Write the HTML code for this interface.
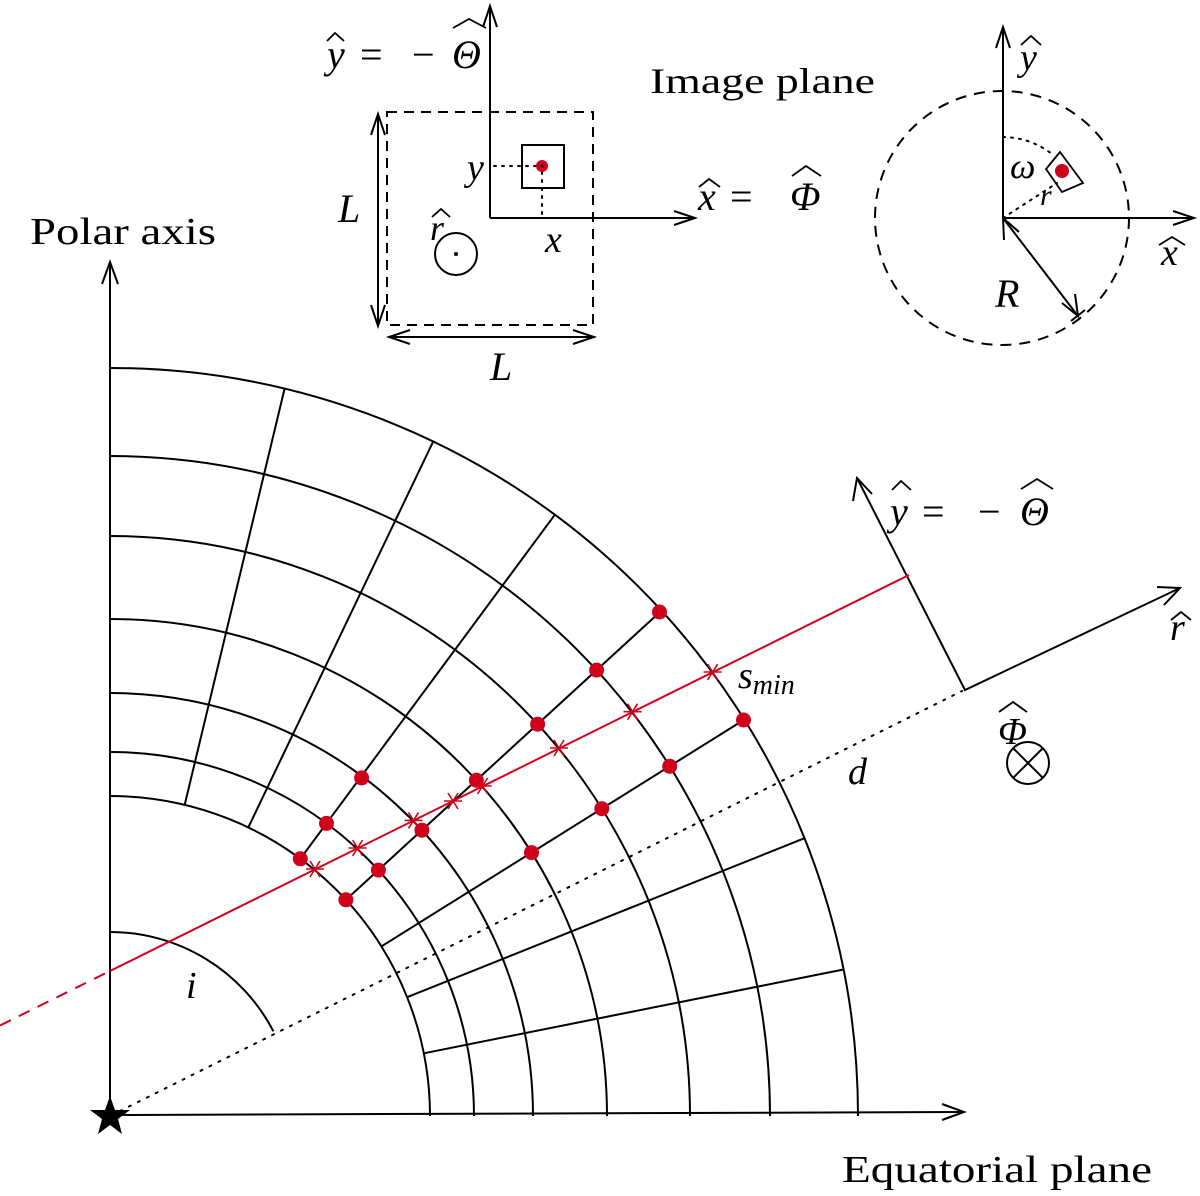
<!DOCTYPE html>
<html><head><meta charset="utf-8"><style>
html,body{margin:0;padding:0;background:#fff;}
svg{display:block;}
text{font-family:"Liberation Serif",serif;fill:#000;}
.m{font-style:italic;}
</style></head><body>
<svg width="1200" height="1196" viewBox="0 0 1200 1196" xmlns="http://www.w3.org/2000/svg">
<g fill="none" stroke="#000" stroke-width="2">
<path d="M430 1116 A320 320 0 0 0 110 796"/>
<path d="M474 1116 A364 364 0 0 0 110 752"/>
<path d="M533 1116 A423 423 0 0 0 110 693"/>
<path d="M607 1116 A497 497 0 0 0 110 619"/>
<path d="M690 1116 A580 580 0 0 0 110 536"/>
<path d="M770 1116 A660 660 0 0 0 110 456"/>
<path d="M858 1116 A748 748 0 0 0 110 368"/>
<line x1="423.8" y1="1053.3" x2="843.5" y2="969.5"/>
<line x1="407.1" y1="997.2" x2="804.5" y2="838.2"/>
<line x1="381.4" y1="946.4" x2="744.3" y2="719.6"/>
<line x1="345.9" y1="899.8" x2="661.5" y2="610.6"/>
<line x1="300.3" y1="858.8" x2="554.9" y2="514.7"/>
<line x1="248.3" y1="827.4" x2="433.2" y2="441.5"/>
<line x1="184.7" y1="804.8" x2="284.6" y2="388.6"/>
<path d="M110 932 A184 184 0 0 1 273.4 1031.3"/>
<line x1="110" y1="1116" x2="110" y2="262"/>
<path d="M102 284 L110 262 L118 284"/>
<line x1="110" y1="1115" x2="963" y2="1112"/>
<path d="M942 1104 L964 1112 L942 1120"/>
<line x1="120" y1="1111" x2="962" y2="691" stroke-dasharray="2 8" stroke-linecap="round"/>
<polyline points="857,478 965,690 1180,588"/>
<path d="M853 501 L857 478 L872 494"/>
<path d="M1157 587 L1180 588 L1164 605"/>
<circle cx="1028" cy="763" r="21"/>
<line x1="1013" y1="748" x2="1043" y2="778"/>
<line x1="1043" y1="748" x2="1013" y2="778"/>
</g>
<g stroke="#d0021b" stroke-width="2" fill="none">
<line x1="0" y1="1025.5" x2="110" y2="971" stroke-dasharray="12 9"/>
<line x1="110" y1="971" x2="909" y2="575"/>
</g>
<g stroke="#d0021b" stroke-width="1.6">
<g transform="translate(315,869)"><line x1="-9" y1="0" x2="9" y2="0"/><line x1="-5" y1="-8" x2="5" y2="8"/><line x1="5" y1="-8" x2="-5" y2="8"/></g>
<g transform="translate(357.6,848)"><line x1="-9" y1="0" x2="9" y2="0"/><line x1="-5" y1="-8" x2="5" y2="8"/><line x1="5" y1="-8" x2="-5" y2="8"/></g>
<g transform="translate(413.5,820.4)"><line x1="-9" y1="0" x2="9" y2="0"/><line x1="-5" y1="-8" x2="5" y2="8"/><line x1="5" y1="-8" x2="-5" y2="8"/></g>
<g transform="translate(453,801)"><line x1="-9" y1="0" x2="9" y2="0"/><line x1="-5" y1="-8" x2="5" y2="8"/><line x1="5" y1="-8" x2="-5" y2="8"/></g>
<g transform="translate(482.6,786)"><line x1="-9" y1="0" x2="9" y2="0"/><line x1="-5" y1="-8" x2="5" y2="8"/><line x1="5" y1="-8" x2="-5" y2="8"/></g>
<g transform="translate(559,748)"><line x1="-9" y1="0" x2="9" y2="0"/><line x1="-5" y1="-8" x2="5" y2="8"/><line x1="5" y1="-8" x2="-5" y2="8"/></g>
<g transform="translate(632.5,711.7)"><line x1="-9" y1="0" x2="9" y2="0"/><line x1="-5" y1="-8" x2="5" y2="8"/><line x1="5" y1="-8" x2="-5" y2="8"/></g>
<g transform="translate(712.6,672)"><line x1="-9" y1="0" x2="9" y2="0"/><line x1="-5" y1="-8" x2="5" y2="8"/><line x1="5" y1="-8" x2="-5" y2="8"/></g>
</g>
<g fill="#d0021b">
<circle cx="345.9" cy="899.8" r="7.5"/><circle cx="378.4" cy="870.1" r="7.5"/><circle cx="421.9" cy="830.2" r="7.5"/><circle cx="476.4" cy="780.2" r="7.5"/><circle cx="537.6" cy="724.2" r="7.5"/><circle cx="596.6" cy="670.1" r="7.5"/><circle cx="659.5" cy="612" r="7.5"/>
<circle cx="531.5" cy="852.6" r="7.5"/><circle cx="601.8" cy="808.7" r="7.5"/><circle cx="669.7" cy="766.3" r="7.5"/><circle cx="743.5" cy="720" r="7.5"/>
<circle cx="300.3" cy="858.8" r="7.5"/><circle cx="326.5" cy="823.4" r="7.5"/><circle cx="361.6" cy="777.9" r="7.5"/>
</g>
<polygon points="110,1096 115,1110 130,1110 118,1119 122,1134 110,1125 98,1134 102,1119 90,1110 105,1110" fill="#000"/>

<g fill="none" stroke="#000" stroke-width="2">
<rect x="387" y="112" width="206" height="213" stroke-dasharray="10 7"/>
<line x1="490" y1="218" x2="490" y2="6"/>
<path d="M483 27 L490 6 L497 27"/>
<line x1="490" y1="218" x2="695" y2="218"/>
<path d="M674 211 L695 218 L674 225"/>
<rect x="522" y="145" width="42" height="43"/>
<circle cx="456" cy="254" r="21"/>
<line x1="378" y1="114" x2="378" y2="326"/>
<path d="M371 135 L378 114 L385 135 M371 305 L378 326 L385 305"/>
<line x1="389" y1="337" x2="594" y2="337"/>
<path d="M410 330 L389 337 L410 344 M573 330 L594 337 L573 344"/>
<line x1="494" y1="166" x2="536" y2="166" stroke-dasharray="2 6" stroke-linecap="round"/>
<line x1="542" y1="172" x2="542" y2="216" stroke-dasharray="2 6" stroke-linecap="round"/>
</g>
<circle cx="456" cy="254" r="2" fill="#000"/>
<circle cx="542" cy="166" r="6" fill="#d0021b"/>
<circle cx="542" cy="166" r="1.5" fill="#000"/>

<g fill="none" stroke="#000" stroke-width="2">
<circle cx="1002" cy="218" r="127" stroke-dasharray="11 8"/>
<line x1="1003" y1="218" x2="1003" y2="27"/>
<path d="M996 48 L1003 27 L1010 48"/>
<line x1="1003" y1="218" x2="1194" y2="218"/>
<path d="M1173 211 L1194 218 L1173 225"/>
<line x1="1003" y1="218" x2="1078" y2="316"/>
<path d="M1004 240 L1003 218 L1019 232 M1062 303 L1078 316 L1075 294 M1071 321 L1085 310"/>
<path d="M1060 152 L1083 183 L1062 192 L1046 169 Z" stroke-width="1.8"/>
<path d="M1003 137 A81 81 0 0 1 1052 154" stroke-dasharray="2 6" stroke-linecap="round"/>
<line x1="1003" y1="218" x2="1057" y2="183" stroke-dasharray="2 6" stroke-linecap="round"/>
</g>
<circle cx="1062" cy="171" r="7" fill="#d0021b"/>

<!-- hats -->
<g fill="none" stroke="#000" stroke-width="1.8">
<path d="M327 41 L335 33 L344 41"/>
<path d="M453 28 L469 19 L486 28"/>
<path d="M699 187 L709 179 L720 187"/>
<path d="M792 176 L806 166 L821 176"/>
<path d="M432 217 L441 209 L450 217"/>
<path d="M1021 45 L1031 36 L1041 45"/>
<path d="M1159 245 L1172 237 L1185 245"/>
<path d="M892 490 L901 481 L911 490"/>
<path d="M1021 489 L1037 479 L1053 489"/>
<path d="M1171 620 L1181 612 L1191 620"/>
<path d="M999 712 L1013 702 L1027 712"/>
</g>

<text x="30" y="244" font-size="38" textLength="186" lengthAdjust="spacingAndGlyphs">Polar axis</text>
<text x="842" y="1182" font-size="38" textLength="310" lengthAdjust="spacingAndGlyphs">Equatorial plane</text>
<text x="650" y="93" font-size="36" textLength="225" lengthAdjust="spacingAndGlyphs">Image plane</text>
<g font-size="40">
<text x="327" y="68" class="m">y</text><text x="360" y="68">=</text><text x="412" y="68">−</text><text x="452" y="68" class="m">Θ</text>
<text x="698" y="210" class="m">x</text><text x="730" y="210">=</text><text x="790" y="210" class="m">Φ</text>
<text x="890" y="525" class="m">y</text><text x="922" y="525">=</text><text x="978" y="525">−</text><text x="1020" y="525" class="m">Θ</text>
</g>
<text x="467" y="180" font-size="38" class="m">y</text>
<text x="545" y="252" font-size="38" class="m">x</text>
<text x="430" y="240" font-size="36" class="m">r</text>
<text x="338" y="222" font-size="40" class="m">L</text>
<text x="490" y="380" font-size="40" class="m">L</text>
<text x="1020" y="70" font-size="38" class="m">y</text>
<text x="1161" y="265" font-size="38" class="m">x</text>
<text x="1010" y="178" font-size="36" class="m">ω</text>
<text x="1040" y="205" font-size="30" class="m">r</text>
<text x="995" y="307" font-size="40" class="m">R</text>
<text x="1170" y="640" font-size="38" class="m">r</text>
<text x="998" y="744" font-size="38" class="m">Φ</text>
<text x="848" y="784" font-size="38" class="m">d</text>
<text x="738" y="688" font-size="38" class="m">s<tspan font-size="28" dy="6">min</tspan></text>
<text x="186" y="998" font-size="38" class="m">i</text>
</svg>
</body></html>
